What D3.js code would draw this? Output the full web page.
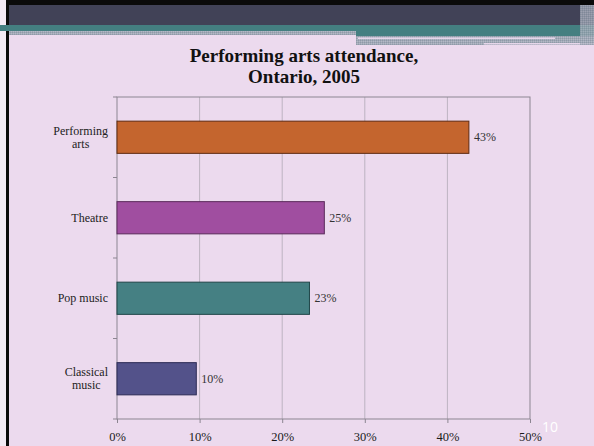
<!DOCTYPE html>
<html>
<head>
<meta charset="utf-8">
<script src="https://cdn.jsdelivr.net/npm/d3@7"></script>
<style>
  body { margin: 0; padding: 0; background: #fff; }
  svg { display: block; }
</style>
</head>
<body>
<script>
// chart data
var categories = ["Performing arts", "Theatre", "Pop music", "Classical music"];
var values = [42.6, 25.1, 23.3, 9.6];
var barColors = ["#c4652e", "#a04ea0", "#458083", "#53528a"];
var barStrokes = ["#5e2a10", "#5a2a5a", "#1f4547", "#2c2b55"];
var xTicks = [0, 10, 20, 30, 40, 50];
var chartTitle = ["Performing arts attendance,", "Ontario, 2005"];

var W = 594, H = 446;

var svg = d3.select("body").append("svg")
  .attr("width", W)
  .attr("height", H);

var defs = svg.append("defs");
var pat = defs.append("pattern")
  .attr("id", "checker")
  .attr("width", 2).attr("height", 2)
  .attr("patternUnits", "userSpaceOnUse");
pat.append("rect").attr("width", 2).attr("height", 2).attr("fill", "#a0a9b6");
pat.append("rect").attr("width", 1).attr("height", 1).attr("fill", "#8f9aa8");
pat.append("rect").attr("x", 1).attr("y", 1).attr("width", 1).attr("height", 1).attr("fill", "#b4b8c6");

// slide background + frame
svg.append("rect").attr("x", 0).attr("y", 0).attr("width", W).attr("height", H).attr("fill", "#ecdaee");
svg.append("rect").attr("x", 0).attr("y", 0).attr("width", 6).attr("height", H).attr("fill", "#f3eaf4");
svg.append("rect").attr("x", 6).attr("y", 0).attr("width", W - 6).attr("height", 5).attr("fill", "#0a0a0a");
svg.append("rect").attr("x", 6).attr("y", 0).attr("width", 3).attr("height", H).attr("fill", "#0a0a0a");

// header bands
svg.append("rect").attr("x", 9).attr("y", 5).attr("width", W - 9).attr("height", 20).attr("fill", "#414257");
svg.append("rect").attr("x", 0).attr("y", 25).attr("width", W).attr("height", 6).attr("fill", "#447f81");
svg.append("rect").attr("x", 9).attr("y", 31).attr("width", 347).attr("height", 4).attr("fill", "url(#checker)");
svg.append("rect").attr("x", 356).attr("y", 31).attr("width", W - 356).attr("height", 5).attr("fill", "#447f81");
svg.append("rect").attr("x", 356).attr("y", 36).attr("width", W - 356).attr("height", 9).attr("fill", "url(#checker)");
svg.append("rect").attr("x", 358).attr("y", 37.5).attr("width", 197).attr("height", 1.5).attr("fill", "#e6d6ea");
svg.append("rect").attr("x", 484).attr("y", 43).attr("width", 110).attr("height", 1.5).attr("fill", "#e6d6ea");
svg.append("rect").attr("x", 580).attr("y", 5).attr("width", 14).attr("height", 40).attr("fill", "url(#checker)").attr("opacity", 0.8);

// title
var title = svg.append("text")
  .attr("text-anchor", "middle")
  .attr("font-family", "'Liberation Serif', 'DejaVu Serif', serif")
  .attr("font-weight", "bold")
  .attr("font-size", 19)
  .attr("fill", "#111");
title.selectAll("tspan").data(chartTitle).enter().append("tspan")
  .attr("x", 304)
  .attr("y", function(d, i) { return 62 + i * 21; })
  .text(function(d) { return d; });

// plot area
var plotLeft = 117, plotRight = 530, plotTop = 97, plotBottom = 419;

var x = d3.scaleLinear().domain([0, 50]).range([plotLeft, plotRight]);
var y = d3.scaleBand().domain(categories).range([plotTop, plotBottom])
  .paddingInner(0.6).paddingOuter(0.3);
var yb = d3.scaleBand().domain(categories).range([plotTop, plotBottom]);

// grid
svg.append("g").selectAll("line").data(xTicks.slice(1, -1)).enter().append("line")
  .attr("x1", function(d) { return x(d); })
  .attr("x2", function(d) { return x(d); })
  .attr("y1", plotTop).attr("y2", plotBottom)
  .attr("stroke", "#bdb3c1").attr("stroke-width", 1);

svg.append("rect")
  .attr("x", plotLeft).attr("y", plotTop)
  .attr("width", plotRight - plotLeft).attr("height", plotBottom - plotTop)
  .attr("fill", "none").attr("stroke", "#8c8591").attr("stroke-width", 1);

// left axis ticks at category boundaries
var bounds = categories.map(function(c) { return yb(c); }).concat([plotBottom]);
svg.append("g").selectAll("line").data(bounds).enter().append("line")
  .attr("x1", plotLeft - 4).attr("x2", plotLeft)
  .attr("y1", function(d) { return d; }).attr("y2", function(d) { return d; })
  .attr("stroke", "#8c8591");

// x axis
var xAxis = svg.append("g")
  .attr("transform", "translate(0," + plotBottom + ")")
  .call(d3.axisBottom(x).tickValues(xTicks).tickSize(4).tickPadding(9)
    .tickFormat(function(d) { return d + "%"; }));
xAxis.select(".domain").remove();
xAxis.selectAll("line").attr("stroke", "#8c8591");
xAxis.selectAll("text")
  .attr("font-family", "'Liberation Serif', 'DejaVu Serif', serif")
  .attr("font-size", 12.5)
  .attr("fill", "#1a1a1a");

// bars
svg.append("g").selectAll("rect").data(categories).enter().append("rect")
  .attr("x", x(0))
  .attr("y", function(d) { return y(d); })
  .attr("width", function(d, i) { return x(values[i]) - x(0); })
  .attr("height", y.bandwidth())
  .attr("fill", function(d, i) { return barColors[i]; })
  .attr("stroke", function(d, i) { return barStrokes[i]; })
  .attr("stroke-width", 1);

// value labels
svg.append("g").selectAll("text").data(categories).enter().append("text")
  .attr("x", function(d, i) { return x(values[i]) + 5; })
  .attr("y", function(d) { return y(d) + y.bandwidth() / 2; })
  .attr("dy", "0.35em")
  .attr("font-family", "'Liberation Serif', 'DejaVu Serif', serif")
  .attr("font-size", 12)
  .attr("fill", "#333")
  .text(function(d, i) { return Math.round(values[i]) + "%"; });

// category labels (wrapped at the space for long names)
var catLabels = svg.append("g").selectAll("text").data(categories).enter().append("text")
  .attr("font-family", "'Liberation Serif', 'DejaVu Serif', serif")
  .attr("font-size", 12)
  .attr("fill", "#222")
  .attr("text-anchor", "middle");

catLabels.each(function(d) {
  var t = d3.select(this);
  var lines = d.length > 10 ? d.split(" ") : [d];
  var cy = y(d) + y.bandwidth() / 2;
  var n = lines.length;
  lines.forEach(function(l, i) {
    t.append("tspan")
      .attr("y", cy + (i - (n - 1) / 2) * 13)
      .attr("dy", "0.35em")
      .text(l);
  });
  var maxW = 0;
  t.selectAll("tspan").each(function() {
    maxW = Math.max(maxW, this.getComputedTextLength());
  });
  t.selectAll("tspan").attr("x", 108 - maxW / 2);
});

// slide number
svg.append("text")
  .attr("x", 550).attr("y", 432)
  .attr("text-anchor", "middle")
  .attr("font-family", "'Open Sans', 'DejaVu Sans', sans-serif")
  .attr("font-size", 14)
  .attr("fill", "#ffffff")
  .text("10");
</script>
</body>
</html>
